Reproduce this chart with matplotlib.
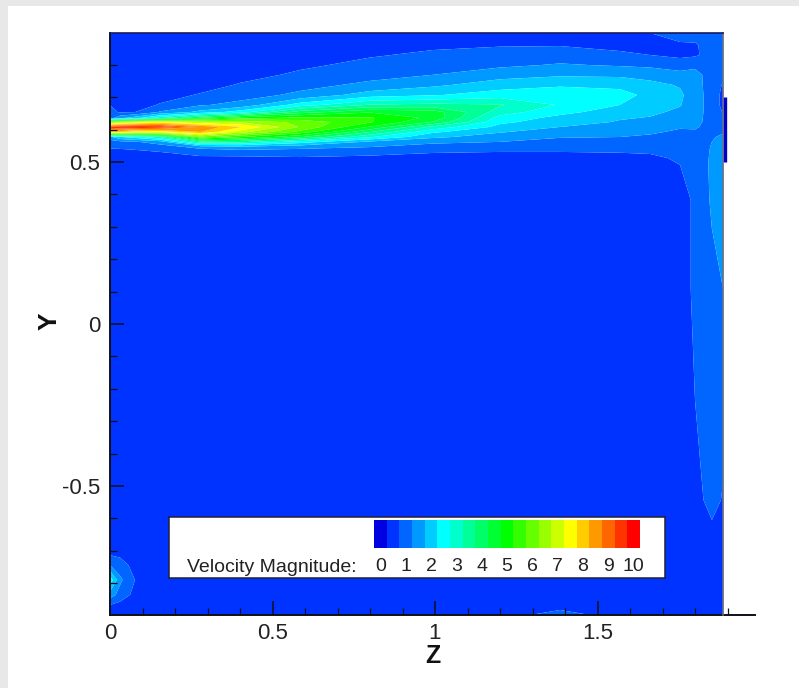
import numpy as np
import matplotlib
matplotlib.use("Agg")
import matplotlib.pyplot as plt
from matplotlib.patches import Rectangle
from matplotlib.ticker import MultipleLocator

plt.rcParams['font.family'] = ['Liberation Sans', 'DejaVu Sans']

W, H = 799, 688

z_grid = [0, .031, .077, .154, .277, .4, .585, .8, .994, 1.2, 1.385, 1.569, 1.662, 1.754, 1.8, 1.852, 1.887]
y_grid = [.898, .861, .830, .799, .769, .738, .707, .676, .654, .636, .623, .608, .593, .577, .562, .546, .531, .512, .491,
          .383, .105, -.235, -.543, -.636, -.698, -.744, -.790, -.836, -.867, -.898]

# velocity magnitude at each y_grid row, one list per z_grid column
v00 = [.5,.5,.5,.5,.5,.5,.5,.75,.9,1.0,6,9.5,8,1.6,1.0,.85,.5,.5,.5, .5,.5,.5,.5,.5,.5,1.25,2.6,1.5,.75,.5]
v01 = [.5,.5,.5,.5,.5,.5,.5,.5,.7,1.6,6.5,9.8,8,2.2,1.1,.9,.5,.5,.5, .5,.5,.5,.5,.5,.5,1.0,1.35,1.05,.6,.5]
v02 = [.5,.5,.5,.5,.5,.5,.5,.5,.75,2,7,9.8,7.5,2.5,1.2,.95,.6,.5,.5, .5,.5,.5,.5,.5,.5,.55,.75,.6,.5,.5]
v03 = [.5,.5,.5,.5,.5,.5,.5,.8,1.3,3,7.5,9.6,7.4,3.2,1.5,1.0,.75,.5,.5, .5,.5,.5,.5,.5,.5,.5,.5,.5,.5,.5]
v04 = [.5,.5,.5,.5,.5,.5,.8,1.2,1.9,4.3,6.8,8.7,8.3,6,3.5,1.4,.95,.65,.5, .5,.5,.5,.5,.5,.5,.5,.5,.5,.5,.5]
v05 = [.5,.5,.5,.5,.55,.8,1.05,1.4,2.5,5,6.7,7.8,7,5.3,3.4,1.6,1.0,.65,.5, .5,.5,.5,.5,.5,.5,.5,.5,.5,.5,.5]
v06 = [.5,.5,.5,.65,.85,1.1,1.35,2.5,4.0,5.4,6.1,6.2,5.6,4.3,2.5,1.4,1.0,.7,.5, .5,.5,.5,.5,.5,.5,.5,.5,.5,.5,.5]
v07 = [.5,.5,.7,.9,1.1,1.35,2.0,3.3,4.7,5.3,5.3,4.7,3.8,2.8,1.65,1.25,.9,.65,.5, .5,.5,.5,.5,.5,.5,.5,.5,.5,.5,.5]
v08 = [.4,.65,.85,1.05,1.25,1.65,2.2,3.4,4.5,4.6,4.2,3.1,2.35,1.85,1.35,1.05,.78,.6,.5, .5,.5,.5,.5,.5,.5,.5,.5,.5,.5,.5]
v09 = [.45,.72,.9,1.15,1.55,2.0,2.5,3.3,3.0,2.55,2.35,2.1,1.8,1.5,1.25,1.0,.75,.55,.5, .5,.5,.5,.5,.5,.5,.5,.5,.5,.5,.5]
v10 = [.45,.72,1.0,1.3,1.68,2.15,2.7,2.7,2.4,2.1,2.0,1.75,1.5,1.28,1.1,.92,.75,.55,.5, .5,.5,.5,.5,.5,.5,.5,.5,.5,.5,1.0]
v11 = [.5,.6,.85,1.2,1.65,2.1,2.45,2.25,2.0,1.8,1.7,1.55,1.4,1.25,1.1,.95,.78,.55,.5, .5,.5,.5,.5,.5,.5,.5,.5,.5,.5,.5]
v12 = [.75,.55,.75,1.15,1.55,1.9,2.1,2.0,1.85,1.72,1.6,1.5,1.3,1.2,1.05,.95,.8,.65,.5, .5,.5,.5,.5,.5,.5,.5,.5,.5,.5,.5]
v13 = [.9,.7,.6,1.1,1.35,1.7,1.85,1.78,1.65,1.5,1.42,1.28,1.2,1.1,1.05,.95,.88,.82,.75, .5,.5,.5,.5,.5,.5,.5,.5,.5,.5,.5]
v14 = [.95,.7,.68,1.15,1.4,1.42,1.45,1.45,1.45,1.42,1.4,1.3,1.2,1.1,1.05,1.0,.97,.95,.95, .85,.85,.75,.55,.5,.5,.5,.5,.5,.5,.5]
v15 = [1.0,.95,.95,1.0,1.05,1.05,1.05,1.05,1.05,1.05,1.05,1.1,1.15,1.2,1.25,1.28,1.3,1.32,1.33, 1.32,1.1,1.0,.95,.65,.5,.5,.5,.5,.5,.5]
v16 = [1.0,1.0,1.0,.95,.85,.7,.6,.6,.72,.9,1.0,1.1,1.2,1.35,1.45,1.5,1.5,1.5,1.5, 1.5,1.25,.95,.7,.55,.5,.5,.5,.5,.5,.5]

levels = [0, 1, 2, 3, 4, 5, 6, 7, 8, 9, 10]
band_colors = ['#0000e0', '#0033ff', '#0066ff', '#0099ff', '#00ccff', '#00ffff', '#00ffcc',
               '#00ff99', '#00ff66', '#00ff33', '#00ff00', '#33ff00', '#66ff00', '#99ff00',
               '#ccff00', '#ffff00', '#ffcc00', '#ff9900', '#ff6600', '#ff3300', '#ff0000']
band_edges = [-.25 + .5 * i for i in range(22)]

outlet_y = [.701, .5]

field = np.array([v00, v01, v02, v03, v04, v05, v06, v07, v08, v09, v10, v11, v12, v13, v14, v15, v16]).T

fig = plt.figure(figsize=(W / 100, H / 100), dpi=100, facecolor='white')
frame = '#e8e8e8'
fig.add_artist(Rectangle((0, 0), 8 / W, 1, transform=fig.transFigure, fc=frame, ec='none'))
fig.add_artist(Rectangle((0, 1 - 6 / H), 1, 6 / H, transform=fig.transFigure, fc=frame, ec='none'))

ax = fig.add_axes([110 / W, 1 - 615 / H, 645 / W, 582 / H])
ax.contourf(z_grid, y_grid, field, levels=band_edges, colors=band_colors, antialiased=True)
ax.set_xlim(0, 645 / 325)
ax.set_ylim(-.898, .898)

for s in ('top', 'right'):
    ax.spines[s].set_visible(False)
for s in ('left', 'bottom'):
    ax.spines[s].set_linewidth(1.4)
    ax.spines[s].set_color('#101018')

ax.plot([z_grid[-1]] * 2, [y_grid[0], y_grid[-1]], color='#6a6f80', lw=1.2, clip_on=False, zorder=3)
ax.plot([0, z_grid[-1]], [y_grid[0], y_grid[0]], color='#1a1a60', lw=1.2, clip_on=False, zorder=3)
ax.plot([z_grid[-1] + .004] * 2, outlet_y, color='#0000c8', lw=2.4, solid_capstyle='butt', clip_on=False, zorder=4)

ax.xaxis.set_major_locator(MultipleLocator(.5))
ax.xaxis.set_minor_locator(MultipleLocator(.1))
ax.yaxis.set_major_locator(MultipleLocator(.5))
ax.yaxis.set_minor_locator(MultipleLocator(.1))
ax.xaxis.set_major_formatter(lambda v, p: f'{v:g}')
ax.yaxis.set_major_formatter(lambda v, p: f'{v:g}')
ax.tick_params(which='major', direction='in', length=10, width=1.1, color='#101018', labelsize=16, labelcolor='#222222')
ax.tick_params(which='minor', direction='in', length=5, width=.9, color='#101018')
ax.tick_params(axis='x', which='major', pad=6)
ax.tick_params(axis='y', which='major', pad=7)

fig.text(433 / W, 1 - 656 / H, 'Z', fontsize=18, fontweight='bold', ha='center', va='center', color='#111111')
fig.text(50 / W, 1 - 321 / H, 'Y', fontsize=19, fontweight='bold', rotation=90, ha='center', va='center', color='#111111')

# legend box
box = fig.add_axes([169 / W, 1 - 578 / H, 496 / W, 61 / H], facecolor='white', zorder=5)
box.set_xticks([]); box.set_yticks([])
for s in box.spines.values():
    s.set_linewidth(1.1)
    s.set_color('#20203a')

bar = fig.add_axes([374 / W, 1 - 548 / H, 266 / W, 28 / H], zorder=6)
bar.pcolormesh(band_edges, [0, 1], np.array([[.5 * i for i in range(21)]]),
               cmap=matplotlib.colors.ListedColormap(band_colors),
               norm=matplotlib.colors.BoundaryNorm(band_edges, 21))
bar.set_xlim(band_edges[0], band_edges[-1])
for s in bar.spines.values():
    s.set_visible(False)
bar.set_yticks([])
bar.set_xticks(levels)
bar.tick_params(axis='x', length=0, labelsize=14, pad=7, labelcolor='#222222')

fig.text(187 / W, 1 - 567 / H, 'Velocity Magnitude:', fontsize=14, ha='left', va='center', color='#222222', zorder=7)

fig.savefig('out.png', dpi=100)
